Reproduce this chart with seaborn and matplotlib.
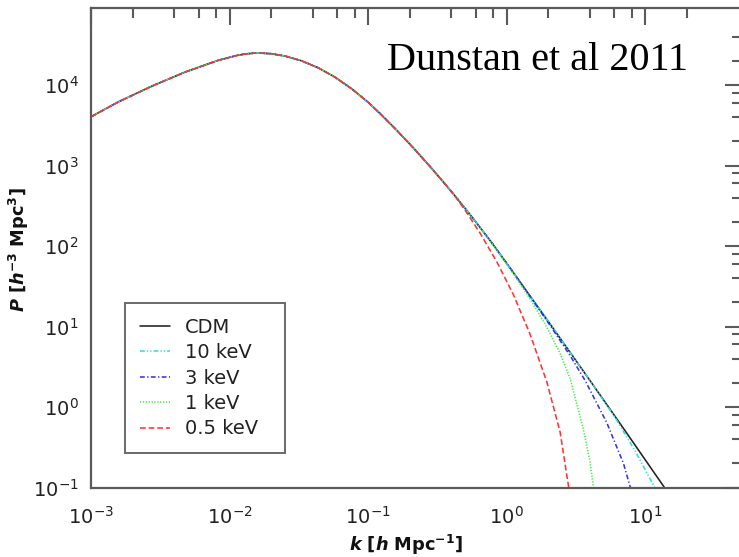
import numpy as np
import pandas as pd
import matplotlib
matplotlib.use("Agg")
import matplotlib.pyplot as plt
import seaborn as sns
from matplotlib.ticker import FixedLocator, LogFormatterSciNotation, NullFormatter

# ---- data (log10 k [h/Mpc], log10 P [h^-3 Mpc^3]) ----
cdm_logk = [-3.000, -2.803, -2.562, -2.321, -2.081, -1.950, -1.888, -1.800, -1.700,
            -1.599, -1.480, -1.359, -1.240, -1.118, -1.000, -0.913, -0.800, -0.673,
            -0.550, -0.432, -0.360, -0.240, -0.100, 0.049, 0.314, 0.603, 0.856, 1.150]
cdm_logp = [3.606, 3.791, 3.986, 4.162, 4.308, 4.367, 4.387, 4.400, 4.390,
            4.361, 4.302, 4.214, 4.100, 3.954, 3.787, 3.646, 3.451, 3.219,
            2.983, 2.746, 2.597, 2.339, 2.025, 1.670, 1.031, 0.326, -0.297, -1.027]

kev10_logk = [-3.000, -2.803, -2.562, -2.321, -2.081, -1.950, -1.888, -1.800, -1.700,
              -1.599, -1.480, -1.359, -1.240, -1.118, -1.000, -0.913, -0.800, -0.673,
              -0.550, -0.432, -0.360, -0.240, -0.100, 0.049, 0.314, 0.603, 0.783, 0.928, 1.075]
kev10_logp = [3.606, 3.791, 3.986, 4.162, 4.308, 4.367, 4.387, 4.400, 4.390,
              4.361, 4.302, 4.214, 4.100, 3.954, 3.787, 3.646, 3.451, 3.219,
              2.983, 2.746, 2.597, 2.339, 2.025, 1.670, 1.031, 0.326, -0.130, -0.547, -1.020]

kev3_logk = [-3.000, -2.803, -2.562, -2.321, -2.081, -1.950, -1.888, -1.800, -1.700,
             -1.599, -1.480, -1.359, -1.240, -1.118, -1.000, -0.913, -0.800, -0.673,
             -0.550, -0.432, -0.360, -0.240, -0.100, 0.049, 0.314, 0.458, 0.567, 0.723,
             0.843, 0.900]
kev3_logp = [3.606, 3.791, 3.986, 4.162, 4.308, 4.367, 4.387, 4.400, 4.390,
             4.361, 4.302, 4.214, 4.100, 3.954, 3.787, 3.646, 3.451, 3.219,
             2.983, 2.746, 2.597, 2.339, 2.025, 1.670, 1.013, 0.639, 0.328, -0.195,
             -0.699, -1.040]

kev1_logk = [-3.000, -2.803, -2.562, -2.321, -2.081, -1.950, -1.888, -1.800, -1.700,
             -1.599, -1.480, -1.359, -1.240, -1.118, -1.000, -0.913, -0.800, -0.673,
             -0.550, -0.432, -0.360, -0.240, -0.083, 0.049, 0.170, 0.290, 0.386, 0.458,
             0.555, 0.603, 0.630]
kev1_logp = [3.606, 3.791, 3.986, 4.162, 4.308, 4.367, 4.387, 4.400, 4.390,
             4.361, 4.302, 4.214, 4.100, 3.954, 3.787, 3.646, 3.451, 3.219,
             2.983, 2.746, 2.597, 2.339, 1.978, 1.655, 1.340, 0.992, 0.666, 0.356,
             -0.284, -0.692, -1.045]

kev05_logk = [-3.000, -2.803, -2.562, -2.321, -2.081, -1.950, -1.888, -1.800, -1.700,
              -1.599, -1.480, -1.359, -1.240, -1.118, -1.000, -0.913, -0.800, -0.673,
              -0.550, -0.432, -0.360, -0.287, -0.191, -0.071, 0.049, 0.170, 0.290,
              0.386, 0.450]
kev05_logp = [3.606, 3.791, 3.986, 4.162, 4.308, 4.367, 4.387, 4.400, 4.390,
              4.361, 4.302, 4.214, 4.100, 3.954, 3.787, 3.646, 3.451, 3.219,
              2.983, 2.746, 2.591, 2.413, 2.159, 1.805, 1.397, 0.901, 0.313,
              -0.311, -1.020]

labels = ["CDM", "10 keV", "3 keV", "1 keV", "0.5 keV"]
series = [(cdm_logk, cdm_logp), (kev10_logk, kev10_logp), (kev3_logk, kev3_logp),
          (kev1_logk, kev1_logp), (kev05_logk, kev05_logp)]

x_major = [1e-3, 1e-2, 1e-1, 1e0, 1e1]
y_major = [1e-1, 1e0, 1e1, 1e2, 1e3, 1e4]

# ---- styling ----
colors = ["#222222", "#33dddd", "#3333ee", "#44ee44", "#ff3333"]
lstyles = ["-", (0, (3.0, 1.3, 0.8, 1.3, 0.8, 1.3)), (0, (3.0, 1.5, 0.8, 1.5)),
           (0, (0.8, 1.0)), (0, (3.6, 1.8))]

sns.set_theme(style="white")
plt.rcParams["font.family"] = ["DejaVu Sans"]
plt.rcParams["mathtext.fontset"] = "dejavusans"

fig = plt.figure(figsize=(7.39, 5.57), dpi=100)
ax = fig.add_axes([91 / 739, 1 - 487.5 / 557, 651 / 739, 479.2 / 557])

for (lk, lp), lab, c, ls in zip(series, labels, colors, lstyles):
    df = pd.DataFrame({"k": 10 ** np.array(lk), "P": 10 ** np.array(lp)})
    sns.lineplot(data=df, x="k", y="P", ax=ax, color=c, linestyle=ls, lw=1.15,
                 label=lab, sort=False, estimator=None)

ax.set_xscale("log")
ax.set_yscale("log")
ax.set_xlim(1e-3, 50)
ax.set_ylim(1e-1, 9.0e4)

ax.xaxis.set_major_locator(FixedLocator(x_major))
ax.yaxis.set_major_locator(FixedLocator(y_major))
xminor = [m * 10.0 ** d for d in range(-3, 2) for m in (2, 4, 6, 8)]
xminor = [v for v in xminor if v < 30]
yminor = [m * 10.0 ** d for d in range(-1, 5) for m in (2, 4, 6, 8)]
yminor = [v for v in yminor if v < 5e4]
ax.xaxis.set_minor_locator(FixedLocator(xminor))
ax.yaxis.set_minor_locator(FixedLocator(yminor))
ax.xaxis.set_major_formatter(LogFormatterSciNotation())
ax.yaxis.set_major_formatter(LogFormatterSciNotation())
ax.xaxis.set_minor_formatter(NullFormatter())
ax.yaxis.set_minor_formatter(NullFormatter())

spine_c = "#5a5a5a"
for s in ax.spines.values():
    s.set_color(spine_c)
    s.set_linewidth(1.6)
ax.tick_params(which="both", direction="in", top=True, right=True, color=spine_c,
               width=1.5, labelsize=14, labelcolor="#222222")
ax.tick_params(which="major", length=12.2)
ax.tick_params(which="minor", length=7.2)
ax.tick_params(axis="x", which="major", pad=13)
ax.tick_params(axis="y", which="major", pad=9)

ax.set_xlabel(r"$\mathbfit{k}$ [$\mathbfit{h}$ Mpc$^{\mathbf{-1}}$]", fontsize=12.8,
              fontweight="bold", color="#111111")
ax.set_ylabel(r"$\mathbfit{P}$ [$\mathbfit{h}^{\mathbf{-3}}$ Mpc$^{\mathbf{3}}$]", fontsize=12.8,
              fontweight="bold", color="#111111")
ax.xaxis.label.set_va("baseline")
ax.xaxis.set_label_coords(0.484, -0.1335)
ax.yaxis.set_label_coords(-0.092, 0.4956)

leg = ax.legend(loc="lower left", bbox_to_anchor=(0.0522, 0.072, 0.2458, 0.309),
                mode="expand", borderaxespad=0,
                fontsize=14, frameon=True, fancybox=False, handlelength=1.55,
                handletextpad=0.8, labelspacing=0.33, borderpad=0.75)
leg.get_frame().set_edgecolor("#444444")
leg.get_frame().set_linewidth(1.4)
for t in leg.get_texts():
    t.set_color("#222222")

fig.text(387 / 739, 1 - 70 / 557, "Dunstan et al 2011", fontsize=29,
         family="Liberation Serif", color="black", ha="left", va="baseline")

fig.savefig("out.png", dpi=100)
